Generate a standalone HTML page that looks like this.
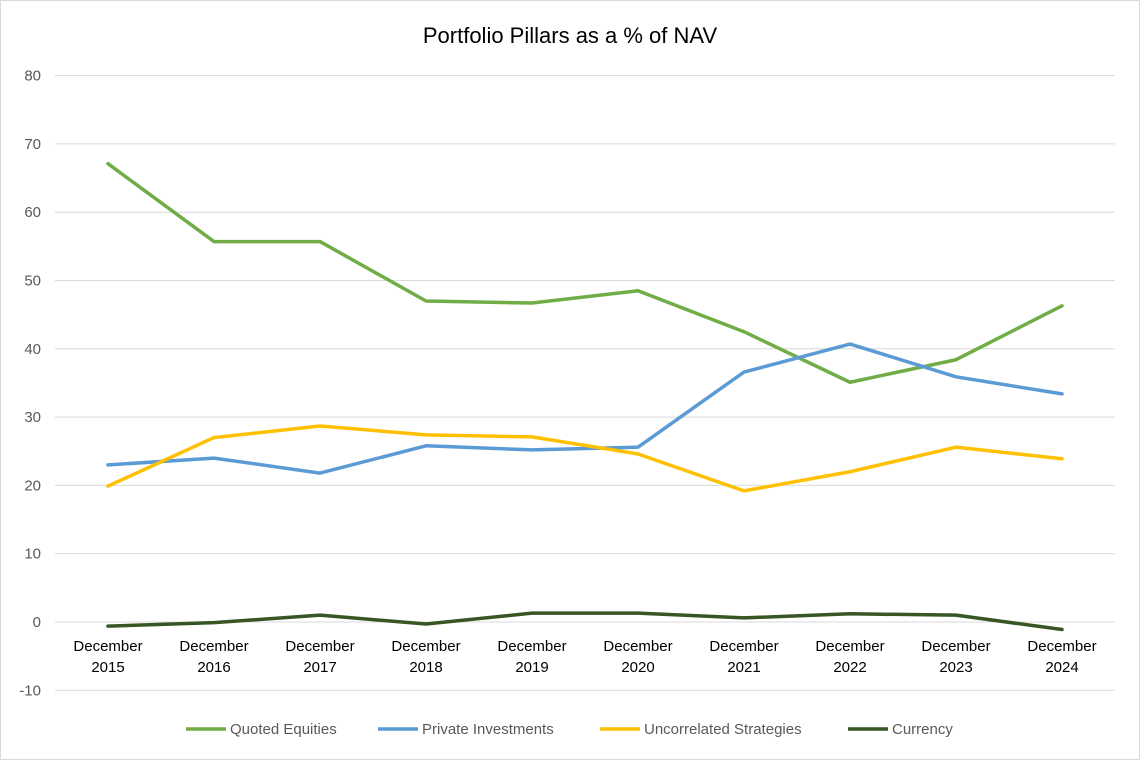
<!DOCTYPE html>
<html><head><meta charset="utf-8"><style>
body{margin:0;background:#fff;}
svg{display:block;font-family:"Liberation Sans",sans-serif;}
</style></head><body>
<svg id="chart" width="1140" height="760">
<rect x="0.5" y="0.5" width="1139" height="759" fill="#fff" stroke="#d9d9d9"/>
<text x="570" y="43" text-anchor="middle" font-size="22" fill="#000">Portfolio Pillars as a % of NAV</text>
<g id="grid"></g><g id="series"></g><g id="labels"></g><g id="legend"></g>
</svg>
<script>
const categories=["December 2015","December 2016","December 2017","December 2018","December 2019","December 2020","December 2021","December 2022","December 2023","December 2024"];
const yTicks=[-10,0,10,20,30,40,50,60,70,80];
const quotedEquities=[67.1,55.7,55.7,47.0,46.7,48.5,42.5,35.1,38.4,46.3];
const privateInvestments=[23.0,24.0,21.8,25.8,25.2,25.6,36.6,40.7,35.9,33.4];
const uncorrelatedStrategies=[19.9,27.0,28.7,27.4,27.1,24.6,19.2,22.0,25.6,23.9];
const currency=[-0.6,-0.1,1.0,-0.3,1.3,1.3,0.6,1.2,1.0,-1.1];
const seriesNames=["Quoted Equities","Private Investments","Uncorrelated Strategies","Currency"];
const NS="http://www.w3.org/2000/svg";
const L=55,R=1115,Y0=622,PX=6.83;
const x=i=>L+(R-L)/categories.length*(i+0.5);
const y=v=>Y0-v*PX;
function mk(t,a,p){const e=document.createElementNS(NS,t);for(const k in a)e.setAttribute(k,a[k]);p.appendChild(e);return e;}
const g=document.getElementById('grid'),lb=document.getElementById('labels'),sg=document.getElementById('series'),lg=document.getElementById('legend');
yTicks.forEach(t=>{
 const ln=mk('line',{x1:L,x2:R,y1:y(t),y2:y(t),stroke:'#d9d9d9','stroke-width':1},g);
 
 
 const tx=mk('text',{x:41,y:y(t)+5,'text-anchor':'end','font-size':15,fill:'#595959'},lb);
 tx.textContent=t;
 
 
});
categories.forEach((c,i)=>{
 const parts=c.split(' ');
 parts.forEach((p,j)=>{
  const tx=mk('text',{x:x(i),y:651+j*21,'text-anchor':'middle','font-size':15,fill:'#000'},lb);
  tx.textContent=p;
  
  
 });
});
const data=[quotedEquities,privateInvestments,uncorrelatedStrategies,currency];
const colors=["#70ad47","#5b9bd5","#ffc000","#375623"];
data.forEach((d,s)=>{
 const pl=mk('polyline',{points:d.map((v,i)=>x(i)+','+y(v)).join(' '),fill:'none',stroke:colors[s],'stroke-width':3.5,'stroke-linejoin':'round','stroke-linecap':'round'},sg);
 
 
});
const lx=[186,378,600,848];
seriesNames.forEach((n,s)=>{
 const ln=mk('line',{x1:lx[s],x2:lx[s]+40,y1:729,y2:729,stroke:colors[s],'stroke-width':3.5},lg);
 
 
 const tx=mk('text',{x:lx[s]+44,y:734,'font-size':15,fill:'#595959'},lg);
 tx.textContent=n;
 
 
});
</script>
</body></html>
